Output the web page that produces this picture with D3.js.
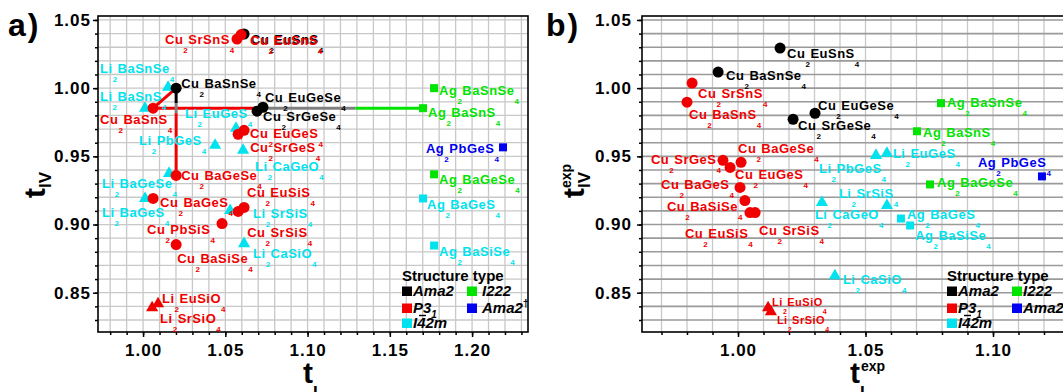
<!DOCTYPE html>
<html>
<head>
<meta charset="utf-8">
<script src="https://cdn.jsdelivr.net/npm/d3@7"></script>
<style>
body { margin: 0; background: #fff; }
svg { display: block; }
text { font-family: "Liberation Sans", Arial, sans-serif; font-weight: bold; }
</style>
</head>
<body>
<div id="chart"></div>
<script>
// ---- panel a) : tI vs tIV
var namesA = ["Cu2SrSnS4","Cu2EuSnS4","Cu2EuSnS4","Li2BaSnSe4","Cu2BaSnSe4","Li2BaSnS4","Cu2BaSnS4",
  "Cu2EuGeSe4","Cu2SrGeSe4","Li2EuGeS4","Cu2EuGeS4","Cu2SrGeS4","Li2PbGeS4","Li2CaGeO4",
  "Cu2BaGeSe4","Li2BaGeSe4","Cu2EuSiS4","Cu2BaGeS4","Li2BaGeS4","Li2SrSiS4","Cu2PbSiS4",
  "Cu2SrSiS4","Li2CaSiO4","Cu2BaSiSe4","Li2EuSiO4","Li2SrSiO4","Ag2BaSnSe4","Ag2BaSnS4",
  "Ag2PbGeS4","Ag2BaGeSe4","Ag2BaGeS4","Ag2BaSiSe4"];
var typeA = ["P31","Ama2","P31","I42m","Ama2","I42m","P31",
  "Ama2","Ama2","I42m","P31","P31","I42m","I42m",
  "P31","I42m","P31","P31","I42m","I42m","P31",
  "P31","I42m","P31","P31","P31","I222","I222",
  "Ama2d","I222","I42m","I42m"];
var tIA = [1.0571,1.0614,1.0596,1.0152,1.0201,1.0012,1.0061,
  1.0729,1.0693,1.0565,1.0614,1.0578,1.0438,1.0608,
  1.0201,1.0158,1.0614,1.0061,1.0012,1.0529,1.0480,
  1.0578,1.0614,1.0201,1.0091,1.0055,1.1769,1.1702,
  1.2188,1.1769,1.1702,1.1769];
var tIVA = [1.0360,1.0397,1.0393,1.0007,1.0000,0.9853,0.9853,
  0.9860,0.9831,0.9706,0.9691,0.9662,0.9581,0.9544,
  0.9360,0.9375,0.9125,0.9191,0.9191,0.9103,0.9007,
  0.9096,0.8860,0.8853,0.8419,0.8390,1.0000,0.9853,
  0.9566,0.9368,0.9191,0.8846];
// substitution paths drawn in panel a) : [tI0, tIV0, tI1, tIV1]
var pathsA = [[1.0061,0.9853,1.0201,1.0000],[1.0061,0.9853,1.0693,0.9853],[1.0693,0.9853,1.1290,0.9853],
  [1.1290,0.9853,1.1702,0.9853],[1.0201,1.0000,1.0201,0.9890],[1.0201,0.9890,1.0201,0.9816],
  [1.0201,0.9816,1.0201,0.9360]];
var pathTypeA = ["P31","P31","grey","I222","Ama2","grey","P31"];

// ---- panel b) : experimental tI vs tIV
var namesB = ["Cu2EuSnS4","Cu2BaSnSe4","Cu2SrSnS4","Cu2BaSnS4","Cu2EuGeSe4","Cu2SrGeSe4","Cu2BaGeSe4",
  "Cu2SrGeS4","Cu2EuGeS4","Cu2BaGeS4","Cu2BaSiSe4","Cu2EuSiS4","Cu2SrSiS4","Li2EuSiO4",
  "Li2SrSiO4","Li2EuGeS4","Li2PbGeS4","Li2SrSiS4","Li2CaGeO4","Li2CaSiO4","Ag2BaGeS4",
  "Ag2BaSiSe4","Ag2BaSnSe4","Ag2BaSnS4","Ag2BaGeSe4","Ag2PbGeS4"];
var typeB = ["Ama2","Ama2","P31","P31","Ama2","Ama2","P31",
  "P31","P31","P31","P31","P31","P31","P31",
  "P31","I42m","I42m","I42m","I42m","I42m","I42m",
  "I42m","I222","I222","I222","Ama2d"];
var tIB = [1.0165,0.9922,0.9820,0.9800,1.0302,1.0216,1.0012,
  0.9941,0.9969,1.0008,1.0027,1.0047,1.0067,1.0118,
  1.0129,1.0584,1.0541,1.0584,1.0329,1.0380,1.0639,
  1.0675,1.0796,1.0702,1.0753,1.1192];
var tIVB = [1.0294,1.0118,1.0037,0.9897,0.9816,0.9772,0.9456,
  0.9471,0.9419,0.9272,0.9176,0.9088,0.9088,0.8390,
  0.8360,0.9522,0.9507,0.9140,0.9162,0.8625,0.9044,
  0.8993,0.9890,0.9684,0.9294,0.9353];

var xTicksA = [1.00, 1.05, 1.10, 1.15, 1.20];
var xTicksB = [1.00, 1.05, 1.10];
var yTicks = [0.85, 0.90, 0.95, 1.00, 1.05];

// ---- layout (label offsets in px from the marker)
var offA = [[-72,5],[7,10],[9,10],[-68,-14],[5,0],[-45,-7],[-53,16],
  [2,-5],[6,10],[-51,-10],[6,8],[12,18],[-76,0],[12,21],
  [5,5],[-67,15],[3,-10],[7,9],[-43,19],[23,8],[-75,10],
  [9,26],[9,14],[1,18],[4,-1],[8,15],[5,7],[5,9],
  [-77,6],[5,10],[4,11],[5,10]];
var offB = [[7,10],[8,8],[6,15],[2,17],[3,-3],[5,11],[-3,-9],
  [-72,4],[5,12],[-79,2],[-78,10],[-65,25],[4,22],[4,-2],
  [6,12],[6,5],[-57,18],[-48,-7],[-7,17],[8,8],[6,0],
  [5,15],[6,4],[6,6],[7,3],[-64,-9]];
var smallB = ["Li2EuSiO4", "Li2SrSiO4"];

var colors = { Ama2: "#000000", P31: "#f00000", I42m: "#00e3ee", I222: "#00e400", Ama2d: "#0000f0", grey: "#808080" };
var drawOrder = ["I42m", "I222", "Ama2d", "Ama2", "P31"];

var W = 1063, H = 392, plotTop = 16, plotBottom = 332;
var svg = d3.select("#chart").append("svg").attr("width", W).attr("height", H);

function shapeOf(name) {
  var e = name.slice(0, 2);
  if (e === "Cu") return [d3.symbolCircle, 95];
  if (e === "Li") return [d3.symbolTriangle, 64];
  return [d3.symbolSquare, 64];
}

function drawLabel(g, name, x, y, color, fs) {
  var parts = name.match(/[A-Za-z]+|\d+/g);
  var t = g.append("text").attr("x", x).attr("y", y).attr("fill", color)
    .style("font-size", fs + "px").style("letter-spacing", "0.5px");
  var low = false;
  var sub = Math.round(fs * 0.7);
  parts.forEach(function(p) {
    var isNum = /\d/.test(p);
    var ts = t.append("tspan").text(p);
    if (isNum) {
      ts.style("font-size", Math.round(fs * 0.62) + "px");
      if (!low) { ts.attr("dy", sub); low = true; }
    } else if (low) { ts.attr("dy", -sub); low = false; }
  });
}

function drawPanel(p) {
  var g = svg.append("g");
  var x = d3.scaleLinear().domain(p.xDomain).range(p.xRange);
  var y = d3.scaleLinear().domain([0.8212, 1.0529]).range([plotBottom, plotTop]);
  var minorX = d3.range(Math.ceil(p.xDomain[0] * 100), Math.floor(p.xDomain[1] * 100) + 1).map(function(d) { return d / 100; });
  var minorY = d3.range(83, 106).map(function(d) { return d / 100; });

  // grid
  g.append("g").selectAll("line").data(minorX).enter().append("line")
    .attr("x1", function(d) { return x(d); }).attr("x2", function(d) { return x(d); })
    .attr("y1", plotTop).attr("y2", plotBottom)
    .attr("stroke", "#c8c8c8").attr("stroke-width", 1.3);
  g.append("g").selectAll("line").data(minorY).enter().append("line")
    .attr("x1", p.xRange[0]).attr("x2", p.xRange[1])
    .attr("y1", function(d) { return y(d); }).attr("y2", function(d) { return y(d); })
    .attr("stroke", p.hGrid).attr("stroke-width", p.hGridW);

  // axes
  function styleAxis(a) {
    a.select(".domain").remove();
    a.selectAll("line").attr("stroke", "#000").attr("stroke-width", 1.5);
    a.selectAll("text").attr("fill", "#000").style("font-size", "17px").style("letter-spacing", "1px");
  }
  g.append("g").attr("transform", "translate(0," + plotBottom + ")")
    .call(d3.axisBottom(x).tickValues(minorX).tickSize(3).tickFormat("")).call(styleAxis);
  g.append("g").attr("transform", "translate(0," + plotBottom + ")")
    .call(d3.axisBottom(x).tickValues(p.xTicks).tickSize(5).tickPadding(7).tickFormat(d3.format(".2f"))).call(styleAxis);
  g.append("g").attr("transform", "translate(" + p.xRange[0] + ",0)")
    .call(d3.axisLeft(y).tickValues(minorY).tickSize(3).tickFormat("")).call(styleAxis);
  g.append("g").attr("transform", "translate(" + p.xRange[0] + ",0)")
    .call(d3.axisLeft(y).tickValues(yTicks).tickSize(5).tickPadding(p.yPad).tickFormat(d3.format(".2f"))).call(styleAxis);
  g.append("rect").attr("x", p.xRange[0]).attr("y", plotTop)
    .attr("width", p.xRange[1] - p.xRange[0]).attr("height", plotBottom - plotTop)
    .attr("fill", "none").attr("stroke", "#000").attr("stroke-width", 1.6);

  // substitution paths
  (p.paths || []).forEach(function(s, i) {
    g.append("line").attr("x1", x(s[0])).attr("y1", y(s[1])).attr("x2", x(s[2])).attr("y2", y(s[3]))
      .attr("stroke", colors[p.pathTypes[i]]).attr("stroke-width", 3);
  });

  // markers
  var idx = d3.range(p.names.length);
  drawOrder.forEach(function(tp) {
    idx.filter(function(i) { return p.types[i] === tp; }).forEach(function(i) {
      var sh = shapeOf(p.names[i]);
      g.append("path").attr("d", d3.symbol().type(sh[0]).size(sh[1])())
        .attr("transform", "translate(" + x(p.tI[i]) + "," + y(p.tIV[i]) + ")")
        .attr("fill", colors[tp]);
    });
  });

  // labels
  idx.forEach(function(i) {
    var fs = (p.small && p.small.indexOf(p.names[i]) >= 0) ? 11 : 13;
    drawLabel(g, p.names[i], x(p.tI[i]) + p.off[i][0], y(p.tIV[i]) + p.off[i][1], colors[p.types[i]], fs);
  });

  // legend
  var L = p.legend;
  g.append("text").attr("x", L.x).attr("y", 281).style("font-size", "15px").text("Structure type");
  var rows = [["Ama2", 0, 296], ["P31", 0, 313], ["I42m", 0, 328], ["I222", 1, 296], ["Ama2d", 1, 313]];
  rows.forEach(function(r) {
    var sx = r[1] ? L.x + L.sq2 : L.x;
    var tx = r[1] ? L.x + L.tx2 : L.x + 11;
    g.append("rect").attr("x", sx).attr("y", r[2] - 9.5).attr("width", 10).attr("height", 9.5).attr("fill", colors[r[0]]);
    var t = g.append("text").attr("x", tx).attr("y", r[2]).style("font-size", "15px").style("font-style", "italic");
    if (r[0] === "P31") {
      t.append("tspan").text("P3");
      t.append("tspan").attr("dy", 5).style("font-size", "10px").text("1");
    } else if (r[0] === "Ama2d") {
      t.append("tspan").text("Ama2");
      t.append("tspan").attr("dy", -6).style("font-size", "11px").style("font-style", "normal").text("\u2020");
    } else if (r[0] === "I42m") {
      t.text("I42m");
      g.append("line").attr("x1", tx + 6).attr("x2", tx + 13).attr("y1", r[2] - 12.5).attr("y2", r[2] - 12.5)
        .attr("stroke", "#000").attr("stroke-width", 1.4);
    } else {
      t.text(r[0]);
    }
  });
  return g;
}

drawPanel({
  names: namesA, types: typeA, tI: tIA, tIV: tIVA, off: offA,
  xDomain: [0.9726, 1.2340], xRange: [98, 528], xTicks: xTicksA, yPad: 2,
  hGrid: "#c8c8c8", hGridW: 1.3,
  paths: pathsA, pathTypes: pathTypeA,
  legend: { x: 402, sq2: 65, tx2: 80 }
});
drawPanel({
  names: namesB, types: typeB, tI: tIB, tIV: tIVB, off: offB, small: smallB,
  xDomain: [0.96235, 1.1320], xRange: [642, 1074.6], xTicks: xTicksB, yPad: 5,
  hGrid: "#9a9a9a", hGridW: 1.6,
  legend: { x: 947, sq2: 65, tx2: 76 }
});

// panel letters and axis titles
svg.append("text").attr("x", 8).attr("y", 36).style("font-size", "32px").style("letter-spacing", "2px").text("a)");
svg.append("text").attr("x", 546).attr("y", 36).style("font-size", "32px").style("letter-spacing", "2px").text("b)");

svg.append("text").attr("x", 303).attr("y", 383).style("font-size", "30px").text("t");
svg.append("text").attr("x", 313).attr("y", 398).style("font-size", "17px").text("I");
var ya = svg.append("g").attr("transform", "translate(45,198) rotate(-90)");
ya.append("text").attr("x", 0).attr("y", 0).style("font-size", "30px").text("t");
ya.append("text").attr("x", 10).attr("y", 6).style("font-size", "17px").text("IV");

svg.append("text").attr("x", 850).attr("y", 383).style("font-size", "30px").text("t");
svg.append("text").attr("x", 861).attr("y", 371).style("font-size", "14px").text("exp");
svg.append("text").attr("x", 860).attr("y", 398).style("font-size", "17px").text("I");
var yb = svg.append("g").attr("transform", "translate(584,198) rotate(-90)");
yb.append("text").attr("x", 0).attr("y", 0).style("font-size", "30px").text("t");
yb.append("text").attr("x", 10).attr("y", -13).style("font-size", "14px").text("exp");
yb.append("text").attr("x", 10).attr("y", 6).style("font-size", "17px").text("IV");
</script>
</body>
</html>
